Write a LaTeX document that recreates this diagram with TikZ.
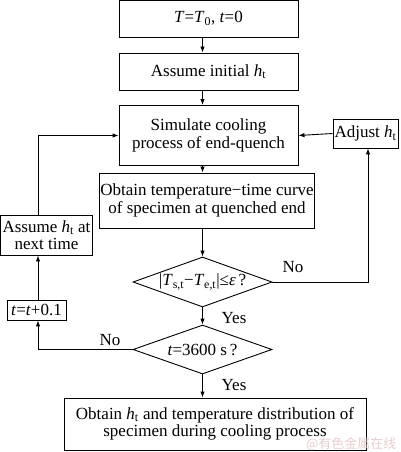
\documentclass[tikz,border=0pt]{standalone}
\usepackage{fontspec}
\setmainfont{Liberation Serif}
\newfontfamily\cjkwm{Noto Sans CJK SC}
\usetikzlibrary{shapes.geometric,arrows.meta}
\definecolor{wm}{RGB}{232,205,205}
\newcommand\hsubt{\textit{h}\textsubscript{t}}
\begin{document}
\begin{tikzpicture}[x=1pt,y=-1pt,
  every node/.style={font=\fontsize{17}{17.5}\selectfont},
  box/.style={draw,line width=0.9pt,inner sep=1pt,align=center},
  dia/.style={draw,line width=0.9pt,diamond,inner sep=0pt},
  arr/.style={line width=0.9pt,-{Latex[length=6pt,width=4.5pt]}},
  ln/.style={line width=0.9pt}]
\useasboundingbox (0,0) rectangle (400,452);
\node[box,minimum width=179pt,minimum height=37pt] (b1) at (208.5,18.5) {\textit{T}=\textit{T}\textsubscript{0}, \textit{t}=0};
\node[box,minimum width=179pt,minimum height=37pt] (b2) at (208.5,71.5) {Assume initial \hsubt};
\node[box,minimum width=179pt,minimum height=60pt] (b3) at (208.5,135.5) {Simulate cooling\\process of end-quench};
\node[box,minimum width=212pt,minimum height=55pt] (b4) at (207,200.5) {Obtain temperature−time curve\\of specimen at quenched end};
\node[box,minimum width=65pt,minimum height=29pt] (adj) at (365.5,133.5) {Adjust \hsubt};
\node[dia,minimum width=139pt,minimum height=50pt] (d1) at (202.5,282) {};
\node at (d1) {|\textit{T}\textsubscript{s,t}−\textit{T}\textsubscript{e,t}|≤\textit{ε}\,?};
\node[dia,minimum width=139pt,minimum height=49pt] (d2) at (202.5,349.5) {};
\node at (d2) {\textit{t}=3600 s\,?};
\node[box,minimum width=92pt,minimum height=40pt,inner sep=0pt] (an) at (46.5,235) {Assume \hsubt\ at\\next time};
\node[box,minimum width=59pt,minimum height=20pt,inner sep=0pt] (tb) at (36.5,310) {\textit{t}=\textit{t}+0.1};
\node[box,minimum width=302pt,minimum height=52pt] (fin) at (215,424) {Obtain \hsubt\ and temperature distribution of\\specimen during cooling process};
% connectors
\draw[arr] (d1.north |- b1.south) -- (d1.north |- b2.north);
\draw[arr] (d1.north |- b2.south) -- (d1.north |- b3.north);
\draw[arr] (d1.north |- b3.south) -- (d1.north |- b4.north);
\draw[arr] (d1.north |- b4.south) -- (d1.north);
\draw[arr] (d1.south) -- (d2.north);
\draw[arr] (d2.south) -- (d2.south |- fin.north);
\draw[arr] (adj.west) -- (b3.east);
\coordinate (rc) at (368,282);
\draw[arr] (d1.east) -- (rc) -- (rc |- adj.south);
\coordinate (lc) at (38,349.5);
\draw[arr] (d2.west) -- (lc) -- (lc |- tb.south);
\draw[arr] (lc |- tb.north) -- (lc |- an.south);
\coordinate (tc) at (38,135.5);
\draw[arr] (lc |- an.north) -- (tc) -- (b3.west);
% labels
\node (no1) at (293,267) {No};
\node (yes1) at (234,318) {Yes};
\node (no2) at (110,340) {No};
\node (yes2) at (234,385) {Yes};
\node[anchor=east,text=wm,font=\cjkwm\fontsize{13}{13}\selectfont] (wmk) at (400,444) {@有色金属在线};
\end{tikzpicture}
\end{document}
